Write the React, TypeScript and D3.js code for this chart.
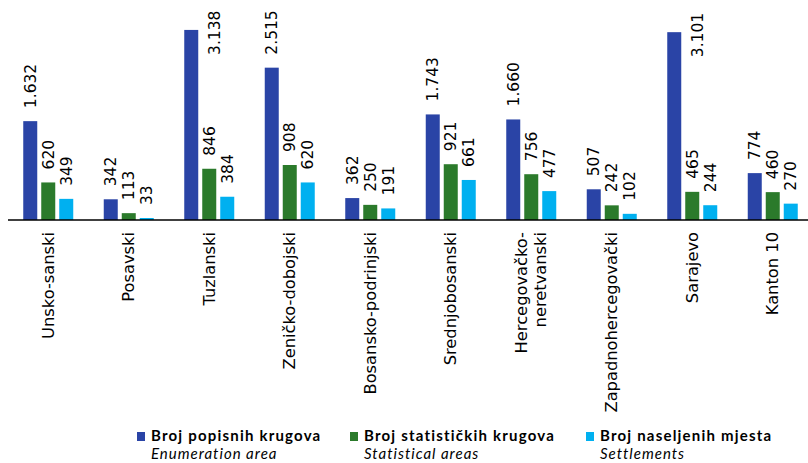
import React from "react";
import * as d3 from "d3";

const categories: string[][] = [
  ["Unsko-sanski"],
  ["Posavski"],
  ["Tuzlanski"],
  ["Zeničko-dobojski"],
  ["Bosansko-podrinjski"],
  ["Srednjobosanski"],
  ["Hercegovačko-", "neretvanski"],
  ["Zapadnohercegovački"],
  ["Sarajevo"],
  ["Kanton 10"],
];
const enumerationAreas = [1632, 342, 3138, 2515, 362, 1743, 1660, 507, 3101, 774];
const statisticalAreas = [620, 113, 846, 908, 250, 921, 756, 242, 465, 460];
const settlements = [349, 33, 384, 620, 191, 661, 477, 102, 244, 270];
const seriesNames = ["Broj popisnih krugova", "Broj statističkih krugova", "Broj naseljenih mjesta"];
const seriesSubNames = ["Enumeration area", "Statistical areas", "Settlements"];
const yMax = 3500;

const W = 808;
const H = 463;
const colors = ["#2a44a6", "#2b7a2b", "#00b0f0"];

const locale = d3.formatLocale({ decimal: ",", thousands: ".", grouping: [3], currency: ["", ""] });
const fmt = locale.format(",d");

export default function App() {
  const series = [enumerationAreas, statisticalAreas, settlements];
  const keys = categories.map((c) => c.join(""));
  const x0 = d3.scaleBand<string>().domain(keys).range([8, 813]).padding(0);
  const step = x0.step();
  const x1 = d3
    .scaleBand<number>()
    .domain([0, 1, 2])
    .range([(step - 50) / 2, (step + 50) / 2])
    .paddingInner(4 / 18)
    .paddingOuter(0);
  const y = d3.scaleLinear().domain([0, yMax]).range([220, 8]);
  const base = y(0);
  const labelFont = "'DejaVu Sans', Verdana, sans-serif";
  const legendFont = "Lato, 'Open Sans', sans-serif";
  const legendX = [137, 350, 586];

  return (
    <svg
      width={W}
      height={H}
      style={{ position: "absolute", left: 0, top: 0, display: "block", background: "#fff" }}
    >
      {series.map((vals, si) =>
        vals.map((v, ci) => {
          const bx = (x0(keys[ci]) as number) + (x1(si) as number);
          const bw = x1.bandwidth();
          return (
            <rect
              key={`b${si}-${ci}`}
              x={bx}
              y={y(v)}
              width={bw}
              height={base - y(v)}
              fill={colors[si]}
            />
          );
        })
      )}
      {series.map((vals, si) =>
        vals.map((v, ci) => {
          const cx = (x0(keys[ci]) as number) + (x1(si) as number) + x1.bandwidth() / 2;
          const txt = fmt(v);
          const approxLen = txt.length * 9.2;
          const top = y(v);
          const gap = 13;
          let lx = cx;
          let ly = top - gap;
          if (ly - approxLen < 8) {
            lx = cx + 23;
            ly = top + 25;
          }
          return (
            <text
              key={`l${si}-${ci}`}
              transform={`translate(${lx},${ly}) rotate(-90)`}
              dy="0.35em"
              fontFamily={labelFont}
              fontSize={15.5}
              fill="#000"
            >
              {txt}
            </text>
          );
        })
      )}
      <line x1={8} x2={W} y1={base} y2={base} stroke="#000" strokeWidth={1.5} />
      {categories.map((lines, ci) => {
        const cx = (x0(keys[ci]) as number) + step / 2;
        return lines.map((ln, li) => {
          const off = (li - (lines.length - 1) / 2) * 19;
          return (
            <text
              key={`c${ci}-${li}`}
              transform={`translate(${cx + off},${232}) rotate(-90)`}
              dy="0.35em"
              textAnchor="end"
              fontFamily={labelFont}
              fontSize={16.3}
              fill="#000"
            >
              {ln}
            </text>
          );
        });
      })}
      {seriesNames.map((name, si) => (
        <g key={`lg${si}`}>
          <rect x={legendX[si]} y={432} width={8} height={9} fill={colors[si]} />
          <text
            x={legendX[si] + 14}
            y={440.5}
            fontFamily={legendFont}
            fontWeight={700}
            fontSize={15}
            letterSpacing={1.2}
            fill="#000"
          >
            {name}
          </text>
          <text
            x={legendX[si] + 14}
            y={459}
            fontFamily={legendFont}
            fontStyle="italic"
            fontSize={15}
            letterSpacing={1}
            fill="#000"
          >
            {seriesSubNames[si]}
          </text>
        </g>
      ))}
    </svg>
  );
}
